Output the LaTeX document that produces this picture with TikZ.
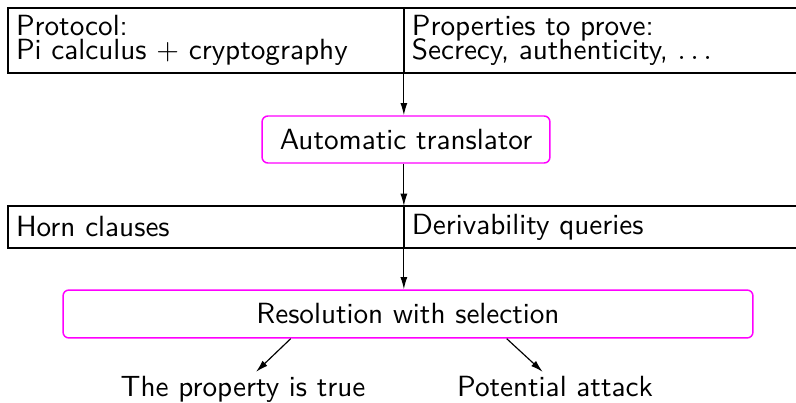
\documentclass[tikz,border=0pt]{standalone}
\usetikzlibrary{arrows.meta,calc}
\definecolor{stagepink}{RGB}{255,0,255}
\tikzset{
  cell/.style = {draw, line width=0.45pt, anchor=north west, align=left, outer sep=0pt,
    text width=130.1pt, inner xsep=2.74pt, inner ysep=0pt},
  stage/.style = {draw=stagepink, line width=0.5pt, rounded corners=2pt, inner sep=0pt},
  result/.style = {anchor=base, inner sep=0pt},
  flow/.style = {-{Latex[length=4.2pt,width=2.4pt]}, line width=0.4pt},
}
\begin{document}
\begin{tikzpicture}[x=0.3425pt, y=-0.3425pt, font=\sffamily]
  \useasboundingbox (0,0) rectangle (796,402);
  \def\tightlines{\fontsize{10pt}{8.2pt}\selectfont\lineskiplimit=-5pt}%

  \node[cell, minimum height=22.3pt, font=\sffamily\tightlines] (proto) at (8,8)
    {Protocol:\\Pi calculus $+$ cryptography};
  \node[cell, minimum height=22.3pt, font=\sffamily\tightlines] (props) at (proto.north east)
    {Properties to prove:\\Secrecy, authenticity, $\ldots$};
  \node[stage, minimum width=98.6pt, minimum height=16.1pt] (trans) at (406,139.5)
    {Automatic translator};
  \node[cell, minimum height=14.4pt] (horn) at (8,206) {Horn clauses};
  \node[cell, minimum height=14.4pt] (deriv) at (horn.north east) {Derivability queries};
  \node[stage, minimum width=236.3pt, minimum height=16.4pt] (resol) at (408,314)
    {Resolution with selection};
  \node[result] (true) at (243,396.7) {The property is true};
  \node[result] (attack) at (555,396.7) {Potential attack};

  \draw[flow] (proto.north east) -- (proto.north east |- trans.north);
  \draw[flow] (trans.south -| proto.east) -- (horn.north east);
  \draw[flow] (horn.north east) -- (horn.north east |- resol.north);
  \draw[flow] ($(resol.south)+(-117.3,0)$) -- ($(true.north)+(13,-4)$);
  \draw[flow] ($(resol.south)+(98.7,0)$) -- ($(attack.north)+(-12.3,-4)$);
\end{tikzpicture}
\end{document}
